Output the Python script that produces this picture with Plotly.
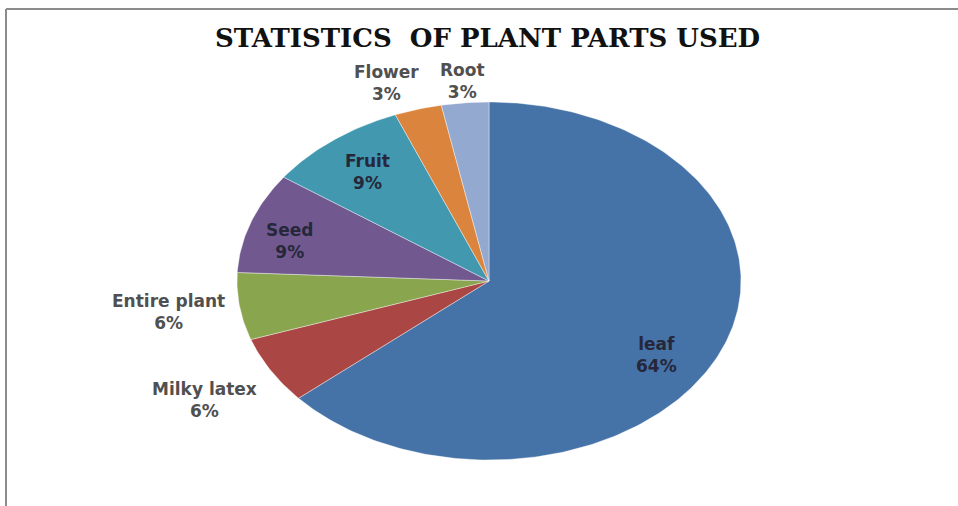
import numpy as np
import plotly.graph_objects as go

# ---- data ----
categories = ["leaf", "Milky latex", "Entire plant", "Seed", "Fruit", "Flower", "Root"]
counts = [21, 2, 2, 3, 3, 1, 1]
colors = ["#4572A7", "#AA4643", "#89A54E", "#71588F", "#4198AF", "#DB843D", "#93A9CF"]

# ---- layout of the (stretched) pie, in pixel coordinates ----
W, H = 958, 506
CX, CY, RX, RY = 489, 281, 252, 179
# label block centres (annotation positions)
label_pos = {
    "leaf": (656, 355),
    "Milky latex": (204, 400),
    "Entire plant": (168, 312),
    "Seed": (289, 241),
    "Fruit": (367, 172),
    "Flower": (386, 83),
    "Root": (462, 81),
}
inside = {"leaf", "Seed", "Fruit"}

total = sum(counts)
fig = go.Figure()
start = 0.0
for cat, val, col in zip(categories, counts, colors):
    frac = val / total
    t = np.linspace(start, start + frac, max(int(frac * 400), 8)) * 2 * np.pi
    xs = np.concatenate([[CX], CX + RX * np.sin(t), [CX]])
    ys = np.concatenate([[CY], CY - RY * np.cos(t), [CY]])
    fig.add_trace(go.Scatter(
        x=xs, y=ys, mode="lines", fill="toself", fillcolor=col,
        line=dict(color="rgba(255,255,255,0.5)", width=0.8),
        hoverinfo="text", text=f"{cat}: {frac*100:.0f}%", showlegend=False,
    ))
    lx, ly = label_pos[cat]
    fig.add_annotation(
        x=lx, y=ly, xref="x", yref="y", showarrow=False,
        text=f"{cat}<br>{frac*100:.0f}%",
        font=dict(family="DejaVu Sans", size=17, weight="bold",
                  color="#26283a" if cat in inside else "#505050"),
        align="center",
    )
    start += frac

# frame lines
fig.add_shape(type="line", x0=6, y0=9, x1=W, y1=9, xref="x", yref="y",
              line=dict(color="#8c8c8c", width=2))
fig.add_shape(type="line", x0=6, y0=9, x1=6, y1=H, xref="x", yref="y",
              line=dict(color="#8c8c8c", width=2))

fig.add_annotation(
    x=487, y=38, xref="x", yref="y", showarrow=False,
    text="<b>STATISTICS  OF PLANT PARTS USED</b>",
    font=dict(family="DejaVu Serif", size=26, color="#111111"),
)

fig.update_layout(
    width=W, height=H, margin=dict(l=0, r=0, t=0, b=0),
    paper_bgcolor="white", plot_bgcolor="white",
    xaxis=dict(range=[0, W], visible=False, fixedrange=True),
    yaxis=dict(range=[H, 0], visible=False, fixedrange=True),
    showlegend=False,
)
fig.write_html("out.html")
